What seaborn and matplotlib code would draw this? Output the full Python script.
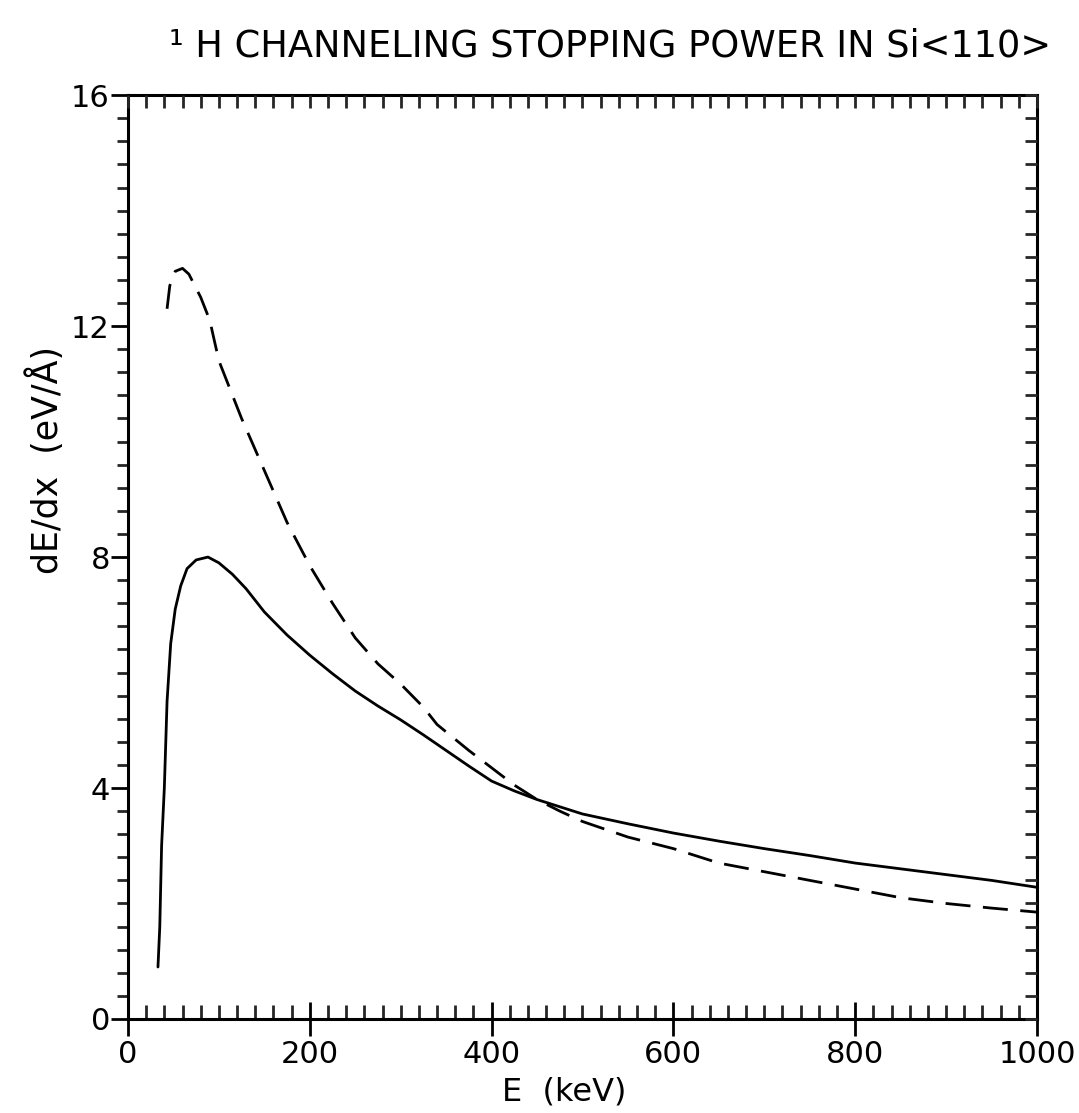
import numpy as np
import pandas as pd
import matplotlib
matplotlib.use("Agg")
import matplotlib.pyplot as plt
import seaborn as sns
from matplotlib.ticker import MultipleLocator

# ---- data ----
solid_E = [33, 35, 37, 40, 43, 47, 52, 58, 65, 75, 88, 100, 115, 130, 150, 175,
           200, 225, 250, 275, 300, 325, 350, 375, 400, 425, 450, 500, 550, 600, 650,
           700, 750, 800, 850, 900, 950, 1000]
solid_S = [0.9, 1.6, 3.0, 4.0, 5.5, 6.5, 7.1, 7.5, 7.8, 7.95, 8.0, 7.9, 7.7, 7.45,
           7.05, 6.65, 6.3, 5.98, 5.68, 5.42, 5.18, 4.92, 4.65, 4.38, 4.12, 3.95,
           3.8, 3.55, 3.38, 3.22, 3.08, 2.95, 2.83, 2.7, 2.6, 2.5, 2.4, 2.28]

dash_E = [43, 46, 52, 60, 67, 80, 90, 100, 125, 150, 175, 200, 225, 250, 275, 300,
          325, 340, 375, 400, 425, 450, 475, 500, 550, 600, 650, 700, 750, 800, 850,
          900, 950, 1000]
dash_S = [12.3, 12.7, 12.95, 13.0, 12.9, 12.5, 12.1, 11.4, 10.4, 9.5, 8.6, 7.85,
          7.2, 6.6, 6.15, 5.8, 5.4, 5.1, 4.65, 4.35, 4.05, 3.8, 3.6, 3.42, 3.15,
          2.95, 2.7, 2.55, 2.4, 2.25, 2.1, 2.0, 1.92, 1.85]

x_ticks = [0, 200, 400, 600, 800, 1000]
y_ticks = [0, 4, 8, 12, 16]
title = "\u00b9 H CHANNELING STOPPING POWER IN Si<110>"
xlabel = "E  (keV)"
ylabel = "dE/dx  (eV/\u00c5)"

sns.set_theme(style="white")
plt.rcParams['font.family'] = ['DejaVu Sans']

fig = plt.figure(figsize=(10.79, 11.13), dpi=100)
pos = [0.1186, 0.0845, 0.8425, 0.830]
ax = fig.add_axes(pos)

df_s = pd.DataFrame({"E": solid_E, "S": solid_S})
df_d = pd.DataFrame({"E": dash_E, "S": dash_S})
sns.lineplot(data=df_s, x="E", y="S", ax=ax, color="black", lw=2.0, estimator=None)
sns.lineplot(data=df_d, x="E", y="S", ax=ax, color="black", lw=2.0, estimator=None,
             linestyle=(0, (9, 4.5)))

ax.set_xlim(0, 1000)
ax.set_ylim(0, 16)
ax.set_xlabel("")
ax.set_ylabel("")
for sp in ax.spines.values():
    sp.set_linewidth(2.2)
    sp.set_color("black")

ax.set_xticks(x_ticks)
ax.set_yticks(y_ticks)
ax.xaxis.set_minor_locator(MultipleLocator(20))
ax.yaxis.set_minor_locator(MultipleLocator(0.4))
ax.tick_params(axis="x", which="major", direction="inout", length=24, width=2,
               labelsize=22, pad=3, colors="black")
ax.tick_params(axis="x", which="minor", direction="in", length=10, width=2)
ax.tick_params(axis="y", which="major", direction="out", length=12, width=2,
               labelsize=22, pad=1, colors="black")
ax.tick_params(axis="y", which="minor", direction="out", length=8, width=2)
ax.xaxis.set_tick_params(which="both", tick1On=True, tick2On=False)
ax.yaxis.set_tick_params(which="both", tick1On=True, tick2On=False)

# independent overlay axes for the inward ticks on top and right
ax2 = fig.add_axes(pos, frameon=False)
ax2.patch.set_visible(False)
ax2.set_xlim(0, 1000)
ax2.set_ylim(0, 16)
ax2.xaxis.set_major_locator(MultipleLocator(20))
ax2.yaxis.set_major_locator(MultipleLocator(0.4))
ax2.xaxis.set_tick_params(which="major", direction="in", length=9, width=2,
                          tick1On=False, tick2On=True, label1On=False, label2On=False)
ax2.yaxis.set_tick_params(which="major", direction="in", length=9, width=2,
                          tick1On=False, tick2On=True, label1On=False, label2On=False)

fig.text(0.565, 0.959, title, ha="center", va="center", fontsize=26.5, color="black")
fig.text(0.523, 0.019, xlabel, ha="center", va="center", fontsize=23, color="black")
fig.text(0.042, 0.587, ylabel, ha="center", va="center", rotation=90, fontsize=25, color="black")

fig.savefig("out.png", dpi=100, facecolor="white")
